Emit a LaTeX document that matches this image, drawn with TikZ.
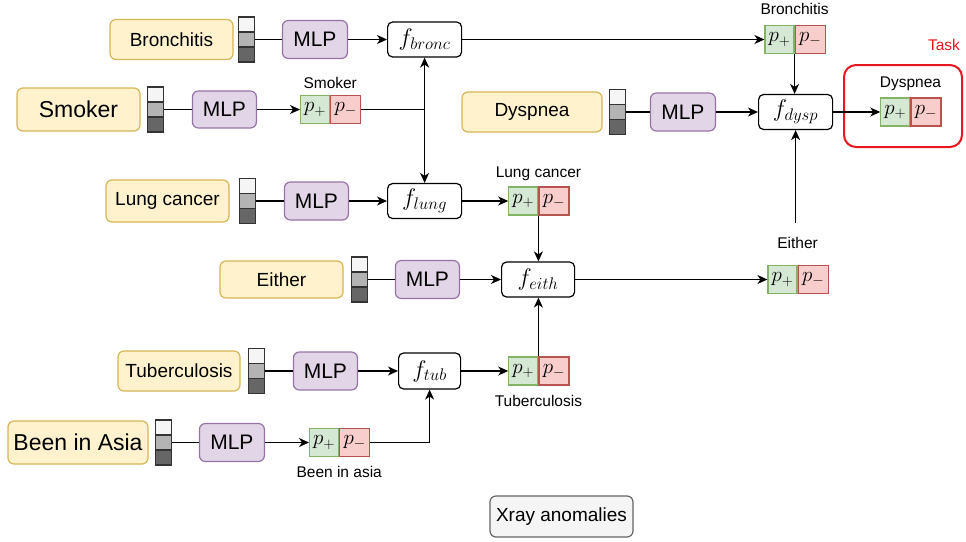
\documentclass[tikz,border=0pt]{standalone}
\usepackage{fix-cm}
\usepackage{amsmath}
\usepackage{fontspec}
\setmainfont{Liberation Sans}
\usepackage{tikz}
\usetikzlibrary{arrows.meta,positioning}

\definecolor{cptfill}{HTML}{FFF2CC}\definecolor{cptdraw}{HTML}{D6B656}
\definecolor{mlpfill}{HTML}{E1D5E7}\definecolor{mlpdraw}{HTML}{9673A6}
\definecolor{posfill}{HTML}{D5E8D4}\definecolor{posdraw}{HTML}{82B366}
\definecolor{negfill}{HTML}{F8CECC}\definecolor{negdraw}{HTML}{B85450}
\definecolor{xfill}{HTML}{F5F5F5}\definecolor{xdraw}{HTML}{666666}
\definecolor{barhi}{HTML}{F5F5F5}\definecolor{barmid}{HTML}{B3B3B3}\definecolor{barlo}{HTML}{666666}
\definecolor{taskred}{HTML}{E8161E}

\begin{document}
\begin{tikzpicture}[x=1pt,y=-1pt,line width=1.2pt,>={Stealth[length=10pt,width=9pt,inset=3pt]},
  concept/.style={draw=cptdraw,fill=cptfill,rounded corners=6pt,inner xsep=3pt,minimum width=123pt,minimum height=40pt,font=\fontsize{19}{22}\selectfont},
  bigconcept/.style={concept,minimum height=43pt,font=\fontsize{23}{27}\selectfont},
  emb/.style={draw=black!80,fill=barmid,inner sep=0pt,minimum width=16pt,minimum height=45pt,
    path picture={\filldraw[draw=black!80,fill=barhi] (path picture bounding box.north west) rectangle ([yshift=7.5pt]path picture bounding box.east);
      \filldraw[draw=black!80,fill=barlo] (path picture bounding box.south west) rectangle ([yshift=-7.5pt]path picture bounding box.east);}},
  mlp/.style={draw=mlpdraw,fill=mlpfill,rounded corners=6pt,minimum width=65pt,minimum height=38pt,font=\fontsize{21}{24}\selectfont},
  factor/.style={draw,fill=white,rounded corners=5pt,inner sep=0pt,minimum width=74pt,minimum height=35pt,font=\fontsize{24}{26}\selectfont},
  ppos/.style={draw=posdraw,fill=posfill,inner sep=0pt,minimum width=29pt,minimum height=28pt,font=\fontsize{21}{22}\selectfont},
  pneg/.style={ppos,draw=negdraw,fill=negfill,minimum width=30pt},
  lbl/.style={inner sep=0pt,font=\fontsize{15.5}{18}\selectfont},
  taskbox/.style={draw=taskred,line width=2pt,rounded corners=12pt,minimum width=118pt,minimum height=82pt},
  xray/.style={draw=xdraw,fill=xfill,rounded corners=6pt,minimum width=143pt,minimum height=41pt,font=\fontsize{19}{22}\selectfont}]
\useasboundingbox (0,0) rectangle (966,541);
% bronchitis
\node[concept] (cb) at (171.5,39.5) {Bronchitis};
\node[emb,right=4pt of cb] (eb) {};
\node[mlp,right=27pt of eb] (mb) {MLP};
\node[factor,right=39pt of mb] (fb) {$f_{bronc}$};
\node[ppos] (bpp) at (779.5,39.5) {$p_+$};
\node[pneg,right=0pt of bpp] (bpm) {$p_-$};
\node[lbl,above=10pt of bpp.north east] (blab) {Bronchitis};
% smoker
\node[bigconcept] (cs) at (78.5,109.5) {Smoker};
\node[emb,right=6pt of cs] (es) {};
\node[mlp,right=28pt of es,minimum width=64pt,minimum height=37pt] (ms) {MLP};
\node[ppos,right=43pt of ms] (spp) {$p_+$};
\node[pneg,right=0pt of spp] (spm) {$p_-$};
\node[lbl,above=6pt of spp.north east] (slab) {Smoker};
% dyspnea (task)
\node[concept,minimum width=140pt] (cd) at (532,112) {Dyspnea};
\node[emb,right=6pt of cd] (ed) {};
\node[mlp,right=24pt of ed] (md) {MLP};
\node[factor,right=42pt of md] (fd) {$f_{dysp}$};
\node[ppos,right=47pt of fd] (dpp) {$p_+$};
\node[pneg,right=0pt of dpp] (dpm) {$p_-$};
\node[lbl,above=6pt of dpp.north east] (dlab) {Dyspnea};
\node[taskbox] (task) at (903,106) {};
\node[lbl,text=taskred] (tlab) at (944,45) {Task};
% lung cancer
\node[concept,minimum height=42pt] (cl) at (167.5,201) {Lung cancer};
\node[emb,right=9pt of cl] (el) {};
\node[mlp,right=28pt of el,minimum width=64pt] (ml) {MLP};
\node[factor] (fl) at (fb |- ml) {$f_{lung}$};
\node[ppos,right=46pt of fl] (lpp) {$p_+$};
\node[pneg,right=0pt of lpp] (lpm) {$p_-$};
\node[lbl,above=5pt of lpp.north east] (llab) {Lung cancer};
% either
\node[concept,minimum height=37pt] (ce) at (281.5,279.5) {Either};
\node[emb,right=7pt of ce] (ee) {};
\node[mlp,right=27pt of ee,minimum width=64pt] (me) {MLP};
\node[factor,right=41pt of me,minimum width=73pt] (fe) {$f_{eith}$};
\node[ppos] (epp) at (782.5,279.5) {$p_+$};
\node[pneg,right=0pt of epp] (epm) {$p_-$};
\node[lbl,above=16pt of epp.north east] (elab) {Either};
\coordinate (eup) at ([yshift=-93pt]fd.south);
% tuberculosis
\node[concept,minimum width=122pt] (ct) at (179,371) {Tuberculosis};
\node[emb,right=7pt of ct] (et) {};
\node[mlp,right=28pt of et,minimum width=64pt] (mt) {MLP};
\node[factor,right=40pt of mt,minimum width=62pt,minimum height=36pt] (ft) {$f_{tub}$};
\node[ppos] (tpp) at (lpp |- ft) {$p_+$};
\node[pneg,right=0pt of tpp] (tpm) {$p_-$};
\node[lbl,below=9pt of tpp.south east] (tlab2) {Tuberculosis};
% been in asia
\node[bigconcept,minimum width=140pt] (ca) at (78,442.5) {Been in Asia};
\node[emb,right=6pt of ca] (ea) {};
\node[mlp,right=27pt of ea] (ma) {MLP};
\node[ppos,right=44pt of ma] (app) {$p_+$};
\node[pneg,right=0pt of app] (apm) {$p_-$};
\node[lbl,below=9pt of app.south east] (alab) {Been in asia};
\node[xray] (xr) at (561.5,516.5) {Xray anomalies};
% connectors
\draw (eb) -- (mb); \draw[->] (mb) -- (fb); \draw[->] (fb) -- (bpp);
\draw[->] (bpp.south east) -- (bpp.south east |- fd.north);
\draw (es) -- (ms); \draw[->] (ms) -- (spp);
\draw[->] (spm.east) -| (fb.south); \draw[->] (spm.east) -| (fl.north);
\draw (ed) -- (md); \draw[->] (md) -- (fd); \draw[->] (fd) -- (dpp);
\draw[->] (eup) -- (fd.south);
\draw (el) -- (ml); \draw[->] (ml) -- (fl); \draw[->] (fl) -- (lpp);
\draw[->] (lpp.south east) -- (lpp.south east |- fe.north);
\draw (ee) -- (me); \draw[->] (me) -- (fe); \draw[->] (fe) -- (epp);
\draw (et) -- (mt); \draw[->] (mt) -- (ft); \draw[->] (ft) -- (tpp);
\draw[->] (tpp.north east) -- (tpp.north east |- fe.south);
\draw (ea) -- (ma); \draw[->] (ma) -- (app); \draw[->] (apm.east) -| (ft.south);
\end{tikzpicture}
\end{document}
